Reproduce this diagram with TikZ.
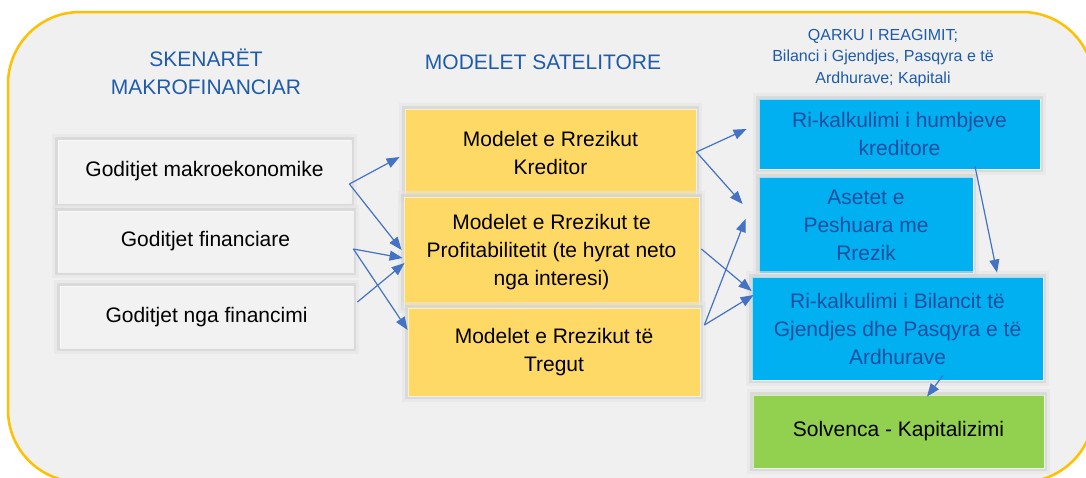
\documentclass[tikz,border=0pt]{standalone}
\usepackage{fontspec}
\setmainfont{Liberation Sans}
\usepackage{tikz}
\usetikzlibrary{calc,arrows.meta,positioning}
\usepackage{xcolor}
\definecolor{panelgray}{RGB}{240,240,240}
\definecolor{frameorange}{RGB}{255,192,0}
\definecolor{headblue}{RGB}{31,91,171}
\definecolor{boxgray}{RGB}{242,242,242}
\definecolor{halogray}{RGB}{208,208,208}
\definecolor{modelyellow}{RGB}{255,217,102}
\definecolor{riskcyan}{RGB}{0,176,240}
\definecolor{cyantext}{RGB}{31,78,160}
\definecolor{solvgreen}{RGB}{146,208,80}
\definecolor{arrowblue}{RGB}{68,114,196}
\tikzset{
  box/.style={rectangle, inner sep=0pt, align=center, text=black,
    preaction={draw=halogray!55, line width=12pt},
    preaction={draw=halogray, line width=6pt},
    draw=white, draw opacity=0.6, line width=0.8pt,
    font={\fontsize{21}{28}\selectfont}},
  shockbox/.style={box, fill=boxgray},
  modelbox/.style={box, fill=modelyellow},
  riskbox/.style={box, fill=riskcyan, text=cyantext},
  solvbox/.style={box, fill=solvgreen},
  head/.style={text=headblue, align=center, font={\fontsize{21}{28}\selectfont}},
  link/.style={arrowblue, line width=1.2pt, -{Triangle[length=13pt,width=10pt]}}
}
\begin{document}
\begin{tikzpicture}[x=1pt, y=-1pt]
      \useasboundingbox (0,0) rectangle (1086,477);
      \clip (0,0) rectangle (1086,477);
      \draw[fill=panelgray, draw=frameorange, line width=2.5pt, rounded corners=72pt] (8,12) rectangle (1094,482);

      \node[head] (hscen) at (206,72) {SKENARËT\\MAKROFINANCIAR};
      \node[head] (hsat) at (543,62) {MODELET SATELITORE};
      \node[head, font={\fontsize{16}{21.5}\selectfont}] (hreag) at (883,58) {QARKU I REAGIMIT;\\Bilanci i Gjendjes, Pasqyra e të\\Ardhurave; Kapitali};

      \node[shockbox, minimum width=293pt, minimum height=63pt] (makro) at (204.5,171.5) {Goditjet makroekonomike};
      \node[shockbox, minimum width=295pt, minimum height=61pt] (fin) at (205.5,241.5) {Goditjet financiare};
      \node[shockbox, minimum width=293pt, minimum height=62pt] (fund) at (206.5,317) {Goditjet nga financimi};

      \node[modelbox, minimum width=291pt, minimum height=88pt] (kred) at (550.5,153) {Modelet e Rrezikut\\Kreditor};
      \node[modelbox, minimum width=295pt, minimum height=110pt] (prof) at (551.5,252) {Modelet e Rrezikut te\\Profitabilitetit (te hyrat neto\\nga interesi)};
      \node[modelbox, minimum width=292pt, minimum height=88pt] (treg) at (554,352) {Modelet e Rrezikut të\\Tregut};

      \node[riskbox, minimum width=281pt, minimum height=70pt] (humb) at (899.5,134) {Ri-kalkulimi i humbjeve\\kreditore};
      \node[riskbox, minimum width=214pt, minimum height=96pt] (aset) at (866,225) {Asetet e\\Peshuara me\\Rrezik};
      \node[riskbox, minimum width=291pt, minimum height=103pt] (bil) at (897.5,328.5) {Ri-kalkulimi i Bilancit të\\Gjendjes dhe Pasqyra e të\\Ardhurave};
      \node[solvbox, minimum width=291pt, minimum height=73pt] (solv) at (898.5,431.5) {Solvenca - Kapitalizimi};

      \draw[link] ($(makro.east)+(-2,12.5)$) -- ($(kred.west)+(-5,4)$);
      \draw[link] ($(makro.east)+(-2,12.5)$) -- ($(prof.west)+(-2,-2)$);
      \draw[link] ($(fin.east)+(0,7.5)$) -- ($(prof.west)+(-1,6)$);
      \draw[link] ($(fin.east)+(0,7.5)$) -- ($(treg.west)+(0,-22)$);
      \draw[link] ($(fund.east)+(4,-15)$) -- ($(prof.west)+(1,11)$);

      \draw[link] ($(kred.east)+(0,-1)$) -- ($(humb.west)+(-12,-5)$);
      \draw[link] ($(kred.east)+(0,-1)$) -- ($(aset.west)+(-16,-21)$);
      \draw[link] ($(prof.east)+(2,-3)$) -- ($(bil.west)+(0,-37.5)$);
      \draw[link] ($(treg.east)+(4,-27)$) -- ($(aset.west)+(-13,-6)$);
      \draw[link] ($(treg.east)+(4,-27)$) -- ($(bil.west)+(2,-33.5)$);

      \draw[link] ($(humb.south)+(75.5,-3)$) -- ($(bil.north)+(99.5,-4)$);
      \draw[link] ($(bil.south)+(45.5,-5)$) -- ($(solv.north)+(28.5,2)$);
    \end{tikzpicture}
\end{document}
